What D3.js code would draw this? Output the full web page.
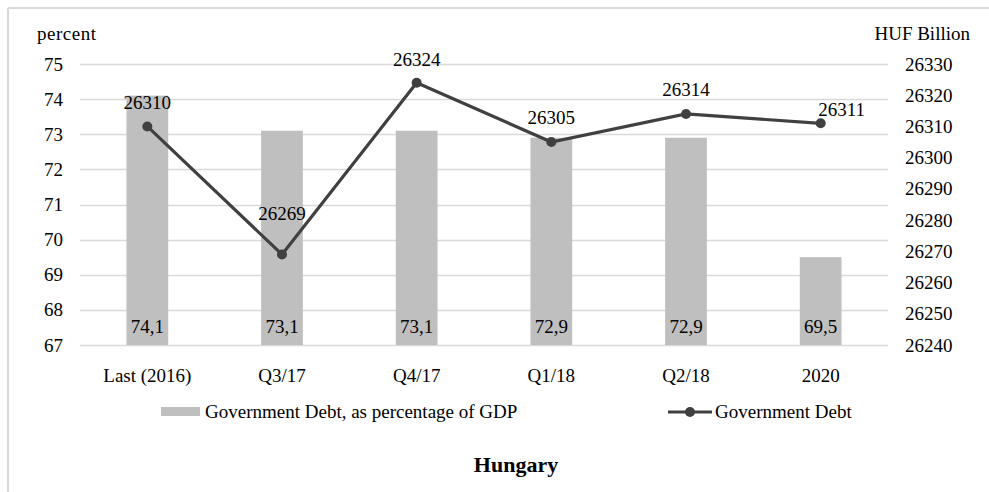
<!DOCTYPE html>
<html><head><meta charset="utf-8">
<script src="https://cdn.jsdelivr.net/npm/d3@7"></script>
<style>
body{margin:0;background:#fff;}
svg text{font-family:"Liberation Serif","Times New Roman",serif;fill:#000;}
</style></head>
<body><svg id="c" width="989" height="492"></svg>
<script>
const categories = ["Last (2016)", "Q3/17", "Q4/17", "Q1/18", "Q2/18", "2020"];
const debtPctGDP = [74.1, 73.1, 73.1, 72.9, 72.9, 69.5];
const debtHUF = [26310, 26269, 26324, 26305, 26314, 26311];
const leftTicks = [67, 68, 69, 70, 71, 72, 73, 74, 75];
const rightTicks = [26240, 26250, 26260, 26270, 26280, 26290, 26300, 26310, 26320, 26330];
const barLabels = ["74,1", "73,1", "73,1", "72,9", "72,9", "69,5"];
// label nudges for line data labels (style only)
const lineLabelDy = [-23, -40, -23, -24, -24, -13];
const lineLabelDx = [0, 0, 0, 0, 0, 21];

const FS = 19;
const svg = d3.select("#c");
const m = {l:80, r:888, t:64, b:345};
const x = d3.scaleBand().domain(categories).range([m.l, m.r]).paddingInner(0.69).paddingOuter(0.345);
const xc = d => x(d) + x.bandwidth()/2;
const yL = d3.scaleLinear().domain([67, 75]).range([m.b, m.t]);
const yR = d3.scaleLinear().domain([26240, 26330]).range([m.b, m.t]);

// frame
svg.append("line").attr("x1",8).attr("x2",989).attr("y1",8).attr("y2",8).attr("stroke","#d9d9d9").attr("stroke-width",2);
svg.append("line").attr("x1",8).attr("x2",8).attr("y1",8).attr("y2",492).attr("stroke","#d9d9d9").attr("stroke-width",2);

// gridlines
svg.append("g").selectAll("line").data(leftTicks).join("line")
  .attr("x1", m.l).attr("x2", m.r).attr("y1", d=>Math.round(yL(d))+0.5).attr("y2", d=>Math.round(yL(d))+0.5)
  .attr("stroke", "#d9d9d9").attr("stroke-width", 1.5);

// left axis
const ga = svg.append("g").attr("transform",`translate(${m.l-17},0)`)
  .call(d3.axisLeft(yL).tickValues(leftTicks).tickSize(0).tickPadding(0).tickFormat(d3.format("d")));
ga.select(".domain").remove();
ga.selectAll("text").attr("font-size",FS).attr("font-family","Liberation Serif").attr("fill","#000");

// right axis
const gr = svg.append("g").attr("transform",`translate(905,0)`)
  .call(d3.axisRight(yR).tickValues(rightTicks).tickSize(0).tickPadding(0).tickFormat(d3.format("d")));
gr.select(".domain").remove();
gr.selectAll("text").attr("font-size",FS).attr("font-family","Liberation Serif").attr("fill","#000");

// bottom axis labels
const gb = svg.append("g").attr("transform",`translate(0,${m.b})`)
  .call(d3.axisBottom(x).tickSize(0).tickPadding(24));
gb.select(".domain").remove();
gb.selectAll("text").attr("font-size",FS).attr("font-family","Liberation Serif").attr("fill","#000");

// bars
svg.append("g").selectAll("rect").data(debtPctGDP).join("rect")
  .attr("x",(d,i)=>x(categories[i])).attr("width",x.bandwidth())
  .attr("y",d=>yL(d)).attr("height",d=>yL(67)-yL(d)).attr("fill","#bfbfbf");

// bar labels
svg.append("g").selectAll("text").data(barLabels).join("text")
  .attr("x",(d,i)=>xc(categories[i])).attr("y",yL(67)-12).attr("text-anchor","middle")
  .attr("font-size",FS).text(d=>d);

// line
const line = d3.line().x((d,i)=>xc(categories[i])).y(d=>yR(d));
svg.append("path").datum(debtHUF).attr("d",line).attr("fill","none").attr("stroke","#404040").attr("stroke-width",3.2);
svg.append("g").selectAll("circle").data(debtHUF).join("circle")
  .attr("cx",(d,i)=>xc(categories[i])).attr("cy",d=>yR(d)).attr("r",5).attr("fill","#404040");
svg.append("g").selectAll("text").data(debtHUF).join("text")
  .attr("x",(d,i)=>xc(categories[i])+lineLabelDx[i]).attr("y",(d,i)=>yR(d)+lineLabelDy[i]+6)
  .attr("text-anchor","middle").attr("font-size",FS).text(d=>d);

// axis titles
svg.append("text").attr("x",37).attr("y",40).attr("font-size",FS).attr("letter-spacing",0.5).text("percent");
svg.append("text").attr("x",970).attr("y",40).attr("text-anchor","end").attr("font-size",FS).text("HUF Billion");

// legend
const lg = svg.append("g");
lg.append("rect").attr("x",161).attr("y",407).attr("width",39).attr("height",9).attr("fill","#bfbfbf");
lg.append("text").attr("x",205).attr("y",418).attr("font-size",FS).text("Government Debt, as percentage of GDP");
lg.append("line").attr("x1",668).attr("x2",712).attr("y1",412).attr("y2",412).attr("stroke","#404040").attr("stroke-width",3.2);
lg.append("circle").attr("cx",690).attr("cy",412).attr("r",5).attr("fill","#404040");
lg.append("text").attr("x",715).attr("y",418).attr("font-size",FS).text("Government Debt");

// title
svg.append("text").attr("x",516).attr("y",472).attr("text-anchor","middle").attr("font-size",22).attr("font-weight","bold").text("Hungary");
</script></body></html>
